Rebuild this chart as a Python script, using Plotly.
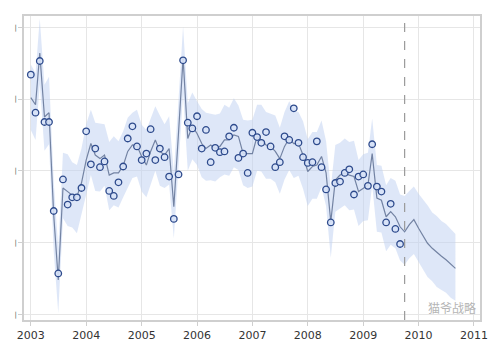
import pandas as pd
import plotly.graph_objects as go

# Monthly actuals Jan 2003 - Sep 2009
actual = [
    3.34, 2.81, 3.53, 2.68, 2.68, 1.44, 0.57, 1.88, 1.53, 1.63, 1.63, 1.76,
    2.55, 2.09, 2.31, 2.05, 2.13, 1.72, 1.65, 1.84, 2.06, 2.45, 2.62, 2.34,
    2.15, 2.24, 2.58, 2.15, 2.31, 2.19, 1.92, 1.33, 1.95, 3.54, 2.67, 2.59,
    2.76, 2.31, 2.57, 2.12, 2.32, 2.26, 2.27, 2.48, 2.60, 2.18, 2.24, 1.97,
    2.53, 2.47, 2.39, 2.54, 2.34, 2.05, 2.12, 2.48, 2.43, 2.87, 2.39, 2.19,
    2.11, 2.12, 2.41, 2.05, 1.74, 1.28, 1.83, 1.85, 1.97, 2.02, 1.67, 1.92,
    1.95, 1.79, 2.37, 1.78, 1.71, 1.28, 1.54, 1.19, 0.98,
]

# Fitted / forecast Jan 2003 - Sep 2010
yhat = [
    3.02, 2.92, 3.64, 2.75, 2.81, 1.38, 0.48, 1.76, 1.71, 1.66, 1.64, 1.83,
    2.15, 2.38, 2.22, 2.17, 2.22, 1.94, 1.97, 1.97, 2.07, 2.27, 2.36, 2.35,
    2.20, 2.08, 2.27, 2.43, 2.27, 2.22, 2.31, 1.50, 2.53, 3.57, 2.45, 2.62,
    2.52, 2.38, 2.31, 2.36, 2.31, 2.34, 2.43, 2.43, 2.50, 2.48, 2.24, 2.24,
    2.24, 2.48, 2.43, 2.36, 2.34, 2.27, 2.17, 2.34, 2.45, 2.38, 2.38, 2.22,
    1.99, 2.06, 2.08, 2.20, 1.97, 1.29, 1.87, 1.94, 1.97, 1.94, 1.92, 1.71,
    1.76, 1.80, 2.24, 1.62, 1.59, 1.36, 1.43, 1.36, 1.22, 1.15, 1.25, 1.32,
    1.20, 1.08, 0.99, 0.92, 0.86, 0.81, 0.76, 0.70, 0.64,
]

yhat_upper = [
    3.48, 3.36, 4.12, 3.20, 3.31, 1.85, 0.91, 2.25, 2.23, 2.12, 2.08, 2.31,
    2.65, 2.85, 2.67, 2.66, 2.65, 2.40, 2.48, 2.41, 2.55, 2.74, 2.81, 2.85,
    2.64, 2.57, 2.73, 2.90, 2.77, 2.65, 2.76, 1.98, 2.99, 4.01, 2.94, 3.09,
    2.97, 2.86, 2.81, 2.80, 2.78, 2.80, 2.92, 2.88, 3.01, 2.91, 2.71, 2.70,
    2.71, 2.92, 2.92, 2.82, 2.79, 2.77, 2.60, 2.82, 2.97, 2.84, 2.82, 2.69,
    2.44, 2.54, 2.54, 2.70, 2.41, 1.76, 2.36, 2.39, 2.45, 2.40, 2.42, 2.15,
    2.23, 2.25, 2.73, 2.08, 2.07, 1.80, 1.90, 1.86, 1.67, 1.65, 1.72, 1.78,
    1.68, 1.60, 1.52, 1.42, 1.37, 1.30, 1.26, 1.19, 1.12,
]

yhat_lower = [
    2.57, 2.43, 3.21, 2.28, 2.37, 0.88, 0.02, 1.34, 1.23, 1.21, 1.13, 1.39,
    1.68, 1.94, 1.72, 1.71, 1.79, 1.45, 1.52, 1.49, 1.63, 1.77, 1.90, 1.92,
    1.71, 1.63, 1.80, 2.00, 1.79, 1.76, 1.81, 1.06, 2.06, 3.08, 2.00, 2.16,
    2.08, 1.91, 1.86, 1.87, 1.85, 1.91, 1.95, 1.93, 2.05, 2.01, 1.80, 1.76,
    1.78, 2.00, 1.99, 1.89, 1.89, 1.84, 1.68, 1.88, 2.01, 1.90, 1.93, 1.75,
    1.51, 1.61, 1.61, 1.77, 1.51, 0.79, 1.43, 1.47, 1.52, 1.45, 1.46, 1.23,
    1.30, 1.31, 1.80, 1.15, 1.14, 0.88, 0.97, 0.92, 0.75, 0.69, 0.78, 0.84,
    0.73, 0.60, 0.52, 0.46, 0.38, 0.34, 0.30, 0.23, 0.19,
]

x_ticks = ["2003", "2004", "2005", "2006", "2007", "2008", "2009", "2010", "2011"]
y_ticks = [0, 1, 2, 3, 4]
forecast_start = "2009-10-01"

ds_actual = pd.date_range("2003-01-01", periods=len(actual), freq="MS")
ds_all = pd.date_range("2003-01-01", periods=len(yhat), freq="MS")

fig = go.Figure()
fig.add_trace(go.Scatter(x=ds_all, y=yhat_upper, mode="lines",
                         line=dict(width=0), hoverinfo="skip", showlegend=False))
fig.add_trace(go.Scatter(x=ds_all, y=yhat_lower, mode="lines",
                         line=dict(width=0), fill="tonexty",
                         fillcolor="rgba(190,208,242,0.5)",
                         hoverinfo="skip", showlegend=False))
fig.add_trace(go.Scatter(x=ds_all, y=yhat, mode="lines",
                         line=dict(color="#7383a3", width=1.2), showlegend=False))
fig.add_trace(go.Scatter(x=ds_actual, y=actual, mode="markers",
                         marker=dict(symbol="circle", size=6.5,
                                     color="rgba(215,226,247,0.9)",
                                     line=dict(color="#2d4a8c", width=1.3)),
                         showlegend=False))

fig.add_shape(type="line", x0=forecast_start, x1=forecast_start, y0=0, y1=1,
              xref="x", yref="paper",
              line=dict(color="#9a9a9a", width=1.2, dash="dash"))

fig.add_annotation(text="猫爷战略", xref="paper", yref="paper", x=0.995, y=0.005,
                   xanchor="right", yanchor="bottom", showarrow=False,
                   font=dict(family="Noto Sans CJK SC", size=12, color="#b5b5b5"))

# page body has an 8px default margin: figure is sized/offset to compensate
fig.update_layout(
    width=492, height=353,
    margin=dict(l=16, r=20, t=8, b=41),
    paper_bgcolor="white", plot_bgcolor="white",
    font=dict(family="DejaVu Sans", size=11, color="#333333"),
)
fig.update_xaxes(
    range=["2002-11-17", "2011-02-10"], automargin=False,
    tickvals=[f"{t}-01-01" for t in x_ticks], ticktext=x_ticks,
    showgrid=True, gridcolor="#e6e6e6", gridwidth=1,
    showline=True, linecolor="#cfcfcf", linewidth=1.5, mirror=True,
    ticks="outside", ticklen=4, tickcolor="#cfcfcf",
    tickfont=dict(size=11, color="#333333"), zeroline=False,
)
fig.update_yaxes(
    range=[-0.079, 4.157], automargin=False,
    tickvals=y_ticks, ticktext=["|" for _ in y_ticks],
    showgrid=True, gridcolor="#e6e6e6", gridwidth=1,
    showline=True, linecolor="#cfcfcf", linewidth=1.5, mirror=True,
    ticks="outside", ticklen=4, tickcolor="#cfcfcf",
    tickfont=dict(size=7, color="#555555"), zeroline=False,
)

fig.write_html("out.html")
